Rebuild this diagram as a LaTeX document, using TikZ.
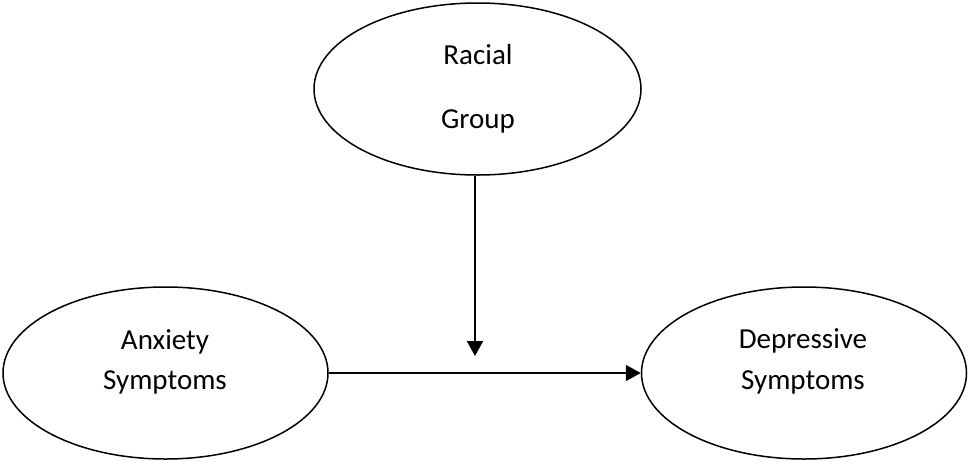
\documentclass[tikz,border=0pt]{standalone}
\usepackage{fontspec}
\setmainfont{Carlito}
\usetikzlibrary{shapes.geometric,arrows.meta}
\begin{document}
\begin{tikzpicture}[x=1pt,y=-1pt,
  var/.style={draw,ellipse,line width=1.5pt,inner sep=0pt,minimum width=325pt,minimum height=172pt},
  lbl/.style={anchor=base,font=\fontsize{29}{34}\selectfont,inner sep=0pt},
  link/.style={line width=2pt,-{Triangle[length=15pt,width=16pt]}}]
\useasboundingbox (0,0) rectangle (968,461);

% the three variables
\node[var,minimum width=327pt] (race) at (477.5,89) {};
\node[var] (anx) at (165.5,373) {};
\node[var] (dep) at (804,373) {};

% labels
\node[lbl] (raceA) at (478,64) {Racial};
\node[lbl] (raceB) at (478,128) {Group};
\node[lbl] (anxA) at (165,349) {Anxiety};
\node[lbl] (anxB) at (165,389) {Symptoms};
\node[lbl] (depA) at (803,348) {Depressive};
\node[lbl] (depB) at (803,389) {Symptoms};

% moderation arrow ends just above the main path
\coordinate (mod) at (475,356);
\draw[link] (race.south -| mod) -- (mod);

% main effect
\draw[link] (anx.east) -- (dep.west);
\end{tikzpicture}
\end{document}
